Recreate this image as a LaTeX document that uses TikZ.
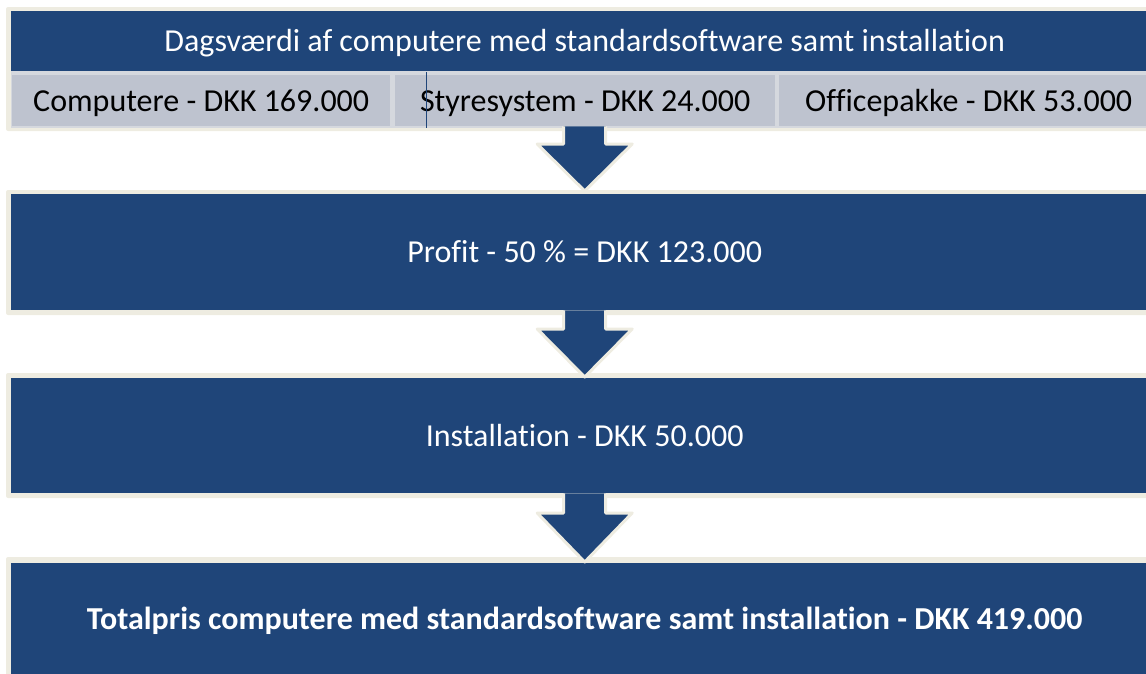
\documentclass[tikz,border=0pt]{standalone}
\usepackage{fontspec}
\setmainfont[Ligatures={NoCommon,NoRare,NoContextual}]{Carlito}
\usetikzlibrary{calc}

\definecolor{navy}{RGB}{31,69,121}
\definecolor{cream}{RGB}{238,236,225}
\definecolor{subgray}{RGB}{190,195,207}
\definecolor{sepgray}{RGB}{213,216,222}

\tikzset{
  boxtext/.style={font=\fontsize{32}{38}\selectfont, text height=24pt, text depth=3.4pt},
  frame/.style={fill=cream, rounded corners=2pt},
  bluebox/.style={boxtext, fill=navy, text=white, inner sep=0pt, anchor=north west,
    minimum width=1147pt},
  subbox/.style={boxtext, fill=subgray, text=black, inner sep=0pt, anchor=north west,
    minimum height=51pt},
  blockarrow/.style={fill=navy, draw=cream, line width=3pt, line join=round}
}

% block arrow pointing down: #1 top centre of shaft, #2 tip, #3 head length
\newcommand\flowarrow[3]{%
  \filldraw[blockarrow]
    ($(#1)+(-21,0)$) -- ($(#2)+(-21,-#3)$) -- ($(#2)+(-47.5,-#3)$) -- (#2)
    -- ($(#2)+(47.5,-#3)$) -- ($(#2)+(21,-#3)$) -- ($(#1)+(21,0)$);
}

\begin{document}
\begin{tikzpicture}[x=1pt,y=-1pt]
\useasboundingbox (0,0) rectangle (1146,673);
\clip (0,0) rectangle (1146,673);

% cream frames behind the boxes
\fill[frame] (6,7)   rectangle (1175,131);
\fill[frame] (6,190) rectangle (1175,315);
\fill[frame] (6,373) rectangle (1175,498);
\fill[frame] (6,557) rectangle (1175,690);

% heading with its three component values
\node[bluebox, minimum height=60pt] (head) at (11,11)
  {Dagsværdi af computere med standardsoftware samt installation};
\fill[sepgray] (11,71) rectangle (1158,128);
\node[subbox, minimum width=378pt] (comp) at (12,75)  {Computere - DKK 169.000};
\node[subbox, minimum width=380pt] (sys)  at (395,75) {Styresystem - DKK 24.000};
\node[subbox, minimum width=379pt] (off)  at (779,75) {Officepakke - DKK 53.000};
\draw[navy, line width=1pt] (426,72) -- (426,128);

% following steps
\node[bluebox, minimum height=116pt] (profit) at (11,194) {Profit - 50 \% = DKK 123.000};
\node[bluebox, minimum height=115pt] (inst)   at (11,378) {Installation - DKK 50.000};
\node[bluebox, minimum height=112pt] (total)  at (11,563)
  {\bfseries Totalpris computere med standardsoftware samt installation - DKK 419.000};

% arrows between the steps
\coordinate (a1) at (head.center |- sys.south);
\coordinate (t1) at ($(profit.north)+(0,-3)$);
\flowarrow{a1}{t1}{47}
\coordinate (t2) at ($(inst.north)+(0,-1)$);
\flowarrow{profit.south}{t2}{48}
\coordinate (t3) at ($(total.north)+(0,-1)$);
\flowarrow{inst.south}{t3}{49}
\end{tikzpicture}
\end{document}
